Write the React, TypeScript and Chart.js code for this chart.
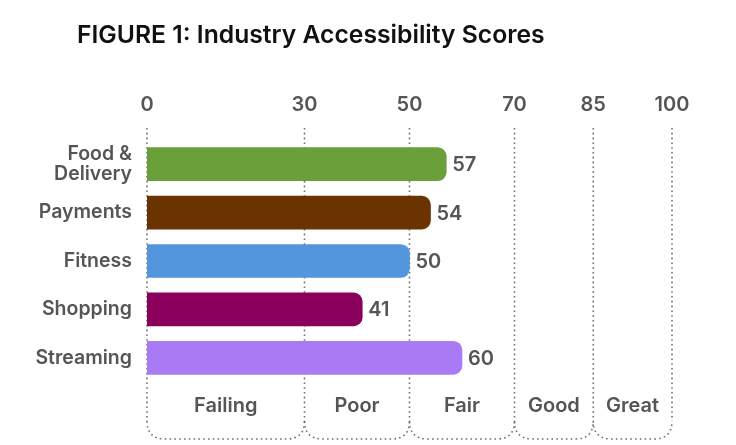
import React, { useEffect, useRef } from "react";
import { Chart, registerables } from "chart.js";

Chart.register(...registerables);

const categories: (string | string[])[] = [["Food &", "Delivery"], "Payments", "Fitness", "Shopping", "Streaming"];
const scores = [57, 54, 50, 41, 60];
const barColors = ["#6a9f3a", "#6b3300", "#5396de", "#8a005c", "#a87af3"];
const thresholds = [0, 30, 50, 70, 85, 100];
const ratingBands = ["Failing", "Poor", "Fair", "Good", "Great"];
const titleText = "FIGURE 1: Industry Accessibility Scores";

const FONT = "Inter, 'Open Sans', sans-serif";
const TEXT_GRAY = "#555557";
const DOT_GRAY = "#6f6f6f";

const overlayPlugin = {
  id: "scoreOverlay",
  beforeDatasetsDraw(chart: any) {
    const { ctx, chartArea } = chart;
    const x = chart.scales.x;
    const topY = chartArea.top - 12;
    const cornerY = chartArea.bottom + 39;
    const baseY = chartArea.bottom + 57;
    const r = 18;
    ctx.save();
    ctx.strokeStyle = DOT_GRAY;
    ctx.lineWidth = 1.6;
    ctx.setLineDash([1.6, 3.2]);
    // vertical threshold guides
    thresholds.forEach((t) => {
      const px = x.getPixelForValue(t);
      ctx.beginPath();
      ctx.moveTo(px, topY);
      ctx.lineTo(px, cornerY);
      ctx.stroke();
    });
    // rounded brackets under each rating band
    for (let i = 0; i < thresholds.length - 1; i++) {
      const x1 = x.getPixelForValue(thresholds[i]);
      const x2 = x.getPixelForValue(thresholds[i + 1]);
      ctx.beginPath();
      ctx.moveTo(x1, cornerY);
      ctx.quadraticCurveTo(x1, baseY, x1 + r, baseY);
      ctx.lineTo(x2 - r, baseY);
      ctx.quadraticCurveTo(x2, baseY, x2, cornerY);
      ctx.stroke();
    }
    ctx.setLineDash([]);
    // band names
    ctx.fillStyle = TEXT_GRAY;
    ctx.font = `600 20px ${FONT}`;
    ctx.textAlign = "center";
    ctx.textBaseline = "middle";
    for (let i = 0; i < ratingBands.length; i++) {
      const x1 = x.getPixelForValue(thresholds[i]);
      const x2 = x.getPixelForValue(thresholds[i + 1]);
      ctx.fillText(ratingBands[i], (x1 + x2) / 2, chartArea.bottom + 24);
    }
    ctx.restore();
  },
  afterDatasetsDraw(chart: any) {
    const { ctx } = chart;
    const meta = chart.getDatasetMeta(0);
    ctx.save();
    ctx.fillStyle = TEXT_GRAY;
    ctx.font = `600 20px ${FONT}`;
    ctx.textAlign = "left";
    ctx.textBaseline = "middle";
    meta.data.forEach((bar: any, i: number) => {
      ctx.fillText(String(scores[i]), bar.x + 6, bar.y + 1);
    });
    // figure title
    ctx.fillStyle = "#111111";
    ctx.font = `600 24.7px ${FONT}`;
    ctx.textBaseline = "alphabetic";
    ctx.fillText(titleText, 77, 43);
    ctx.restore();
  },
};

export default function App() {
  const canvasRef = useRef<HTMLCanvasElement | null>(null);

  useEffect(() => {
    if (!canvasRef.current) return;
    const chart = new Chart(canvasRef.current, {
      type: "bar",
      data: {
        labels: categories,
        datasets: [
          {
            data: scores,
            backgroundColor: barColors,
            borderWidth: 0,
            borderRadius: 9,
            borderSkipped: "start",
            barThickness: 33,
          },
        ],
      },
      options: {
        indexAxis: "y",
        responsive: false,
        animation: false,
        layout: { padding: { top: 0, left: 0, right: 64, bottom: 63 } },
        plugins: {
          legend: { display: false },
          tooltip: { enabled: false },
          title: { display: false },
        },
        scales: {
          x: {
            type: "linear",
            position: "top",
            min: 0,
            max: 100,
            afterBuildTicks(scale: any) {
              scale.ticks = thresholds.map((v) => ({ value: v }));
            },
            afterFit(scale: any) {
              scale.height = 140;
            },
            grid: { display: false, drawTicks: false },
            border: { display: false },
            ticks: {
              autoSkip: false,
              maxRotation: 0,
              padding: 23,
              color: TEXT_GRAY,
              font: { family: FONT, size: 20, weight: "600" },
            },
          },
          y: {
            afterFit(scale: any) {
              scale.width = 147;
            },
            grid: { display: false, drawTicks: false },
            border: { display: false },
            ticks: {
              padding: 15,
              color: TEXT_GRAY,
              font: { family: FONT, size: 19.5, weight: "600", lineHeight: 1.05 },
            },
          },
        },
      },
      plugins: [overlayPlugin],
    });
    return () => chart.destroy();
  }, []);

  return (
    <div style={{ position: "fixed", left: 0, top: 0, width: 736, height: 445, background: "#ffffff" }}>
      <canvas ref={canvasRef} width={736} height={445} />
    </div>
  );
}
